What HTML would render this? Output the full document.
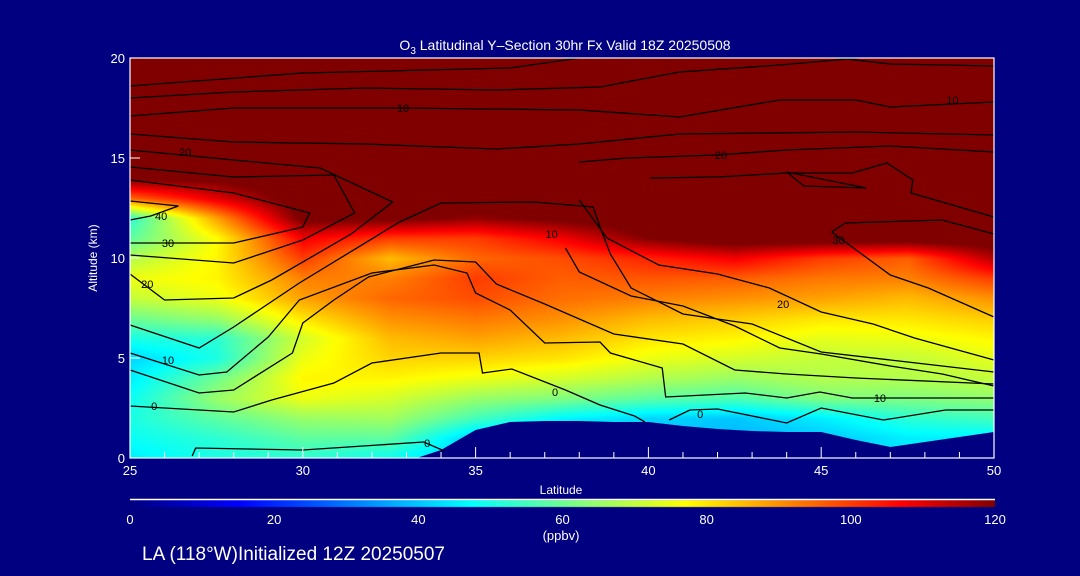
<!DOCTYPE html>
<html><head><meta charset="utf-8">
<style>
html,body{margin:0;padding:0;background:#000080;font-family:"Liberation Sans",sans-serif;}
#wrap{position:relative;width:1080px;height:576px;background:#000080;overflow:hidden;font-family:"Liberation Sans",sans-serif;color:#fff;}
canvas,svg{position:absolute;left:0;top:0;}
svg text{font-family:"Liberation Sans",sans-serif;}
</style></head>
<body>
<div id="wrap">
<canvas id="cv" width="1080" height="576"></canvas>
<svg id="sv" width="1080" height="576"></svg>
<svg width="1080" height="576">
<text x="565" y="50" font-size="14" text-anchor="middle" fill="#fff">O<tspan font-size="10" dy="4">3</tspan><tspan dy="-4"> Latitudinal Y–Section 30hr  Fx Valid 18Z 20250508</tspan></text>
<text x="97" y="258" font-size="12" text-anchor="middle" fill="#fff" transform="rotate(-90 97 258)">Altitude (km)</text>
<text x="561" y="494" font-size="12" text-anchor="middle" fill="#fff">Latitude</text>
<text x="561" y="540" font-size="13" text-anchor="middle" fill="#fff">(ppbv)</text>
<text x="142" y="560" font-size="19" fill="#fff">LA (118°W)Initialized 12Z 20250507</text>
</svg>
</div>
<script>
// ---- data ----
const lats = [25,27.5,30,32.5,35,37.5,40,42.5,45,47.5,50];
const alts = [0,1,2,3,4,5,6,7,8,9,10,11,12,13,14,15,16,17,18,19,20];
const col25  = [45,48,50,48,45,42,50,60,70,75,68,58,52,95,122,125,125,125,125,125,125];
const col275 = [50,52,58,65,60,50,52,65,75,78,78,77,88,110,122,125,125,125,125,125,125];
const col30  = [52,58,65,75,78,75,72,80,88,92,100,108,122,125,125,125,125,125,125,125,125];
const col325 = [48,58,66,72,78,82,85,90,95,92,85,100,122,125,125,125,125,125,125,125,125];
const col35  = [40,40,55,65,75,82,88,93,98,100,95,100,118,125,125,125,125,125,125,125,125];
const col375 = [40,40,46,62,72,80,85,90,94,96,98,108,122,125,125,125,125,125,125,125,125];
const col40  = [40,40,42,58,68,75,80,85,92,97,103,120,125,125,125,125,125,125,125,125,125];
const col425 = [38,38,40,56,65,72,78,83,90,96,108,125,125,125,125,125,125,125,125,125,125];
const col45  = [40,40,45,62,68,70,74,80,88,93,100,125,125,125,125,125,125,125,125,125,125];
const col475 = [45,45,52,62,68,70,75,80,85,92,96,125,125,125,125,125,125,125,125,125,125];
const col50  = [45,45,55,64,70,74,78,83,90,100,115,125,125,125,125,125,125,125,125,125,125];
const ozone = [col25,col275,col30,col325,col35,col375,col40,col425,col45,col475,col50];
const groundLat = [25,33.3,34,35,36,37,38,39,40,41,42,43,44,45,46,47,48,49,50];
const groundAlt = [0,0,0.4,1.4,1.8,1.85,1.85,1.8,1.8,1.6,1.45,1.35,1.3,1.3,0.9,0.55,0.8,1.05,1.3];
const xTicks = [25,30,35,40,45,50];
const yTicks = [0,5,10,15,20];
const cbTicks = [0,20,40,60,80,100,120];
const contours = [
 [[35,20],[45.5,20],[47,19.7],[50,19.6]],
 [[25,18.6],[30,19.25],[36,19.5],[38,20]],
 [[25,18],[28,18.3],[31.8,18.5],[35.6,18.4],[38.6,18.55],[40.9,19.3],[43.8,19.65],[46.1,20]],
 [[25,17.1],[28,17.5],[32.8,17.5],[38,17.4],[40.9,17.05],[43.8,17.9],[46,17.9],[47,17.55],[50,17.8]],
 [[25,16.2],[28,15.8],[31.8,15.7],[35.6,15.45],[38,15.7],[40.9,16.2],[46,16.3],[50,16.15]],
 [[25,15.4],[28,14.9],[30.5,14.5],[32.6,12.8],[31.4,11.2],[29.1,8.9],[28,8.0],[26,7.9],[25,9.2]],
 [[25,14.55],[28,14.05],[30.9,14.15],[31.5,12.25],[30,10.9],[28,9.75],[25,10.15]],
 [[25,13.9],[28,13.25],[30.2,12.25],[30,11.55],[28,10.75],[25,10.75]],
 [[25,12.85],[26.4,12.6],[25.6,12.1],[25,11.9]],
 [[38,14.8],[39.4,15.0],[42,15.15],[44,15.4],[47,15.6],[50,15.3]],
 [[40.05,14.0],[42,14.05],[44,14.25],[45.9,14.25],[46.9,14.75],[47.65,13.9],[47.6,13.25],[50,12.05]],
 [[44,14.3],[46.3,13.5],[44.5,13.6],[44,14.3]],
 [[45.3,11.3],[45.7,11.75],[48.5,11.9],[50,11.2]],
 [[45.3,11.3],[47,9.15],[48.1,8.5],[50,7.05]],
 [[25,6.65],[27,5.5],[28,6.55],[29.9,8.75],[32.8,11.8],[34,12.75],[36.7,12.8],[38.4,12.55],[38.6,11.55],[38.9,10.2],[39.5,8.5],[41,7.2],[43,6.7],[45,5.3],[47,4.9],[50,4.3]],
 [[38,12.9],[38.8,11.0],[40.3,9.65],[42,9.2],[43.5,8.5],[45,7.3],[46.5,6.7],[47.7,6.0],[50,4.9]],
 [[37.6,10.5],[38,9.3],[39.5,8.1],[41,7.6],[42.5,6.6],[43.8,5.5],[45,5.2],[47,4.6],[48.5,4.2],[50,3.6]],
 [[25,5.25],[27,4.15],[27.8,4.3],[29,6.05],[29.9,7.9],[32,9.25],[33.8,9.65],[34.75,9.25],[35,8.25],[36,7.4],[37,5.75],[38.6,5.8],[38.9,5.25],[40.4,4.5],[40.5,3.05],[42.8,3.25],[44,3.0],[44.96,3.3],[45.9,3.0],[50,3.0]],
 [[25,4.4],[27,3.25],[28,3.4],[29.7,5.25],[30,6.75],[30.9,7.9],[31.9,9.05],[33.8,9.9],[35,9.8],[35.6,8.7],[37,7.7],[39,6.2],[41,5.7],[42.5,4.4],[44,4.2],[46,4.0],[50,3.7]],
 [[25,2.6],[28,2.3],[29.1,2.9],[30.9,3.75],[32,4.75],[34,5.25],[35.1,5.25],[35.2,4.25],[36.05,4.45],[37.6,3.4],[38.6,2.65],[39.6,2.1],[39.9,1.8]],
 [[40.6,1.9],[41.2,2.4],[42,2.45],[44,1.75],[45,2.5],[46.8,1.9],[48.6,2.4],[50,2.4]],
 [[26.8,0.1],[26.9,0.5],[30,0.4],[33.5,0.8],[34.1,0.35]]
];
const contourLabels = [["10",32.9,17.5],["10",48.8,17.9],["20",26.6,15.3],["20",42.1,15.15],["40",25.9,12.1],["30",26.1,10.75],["20",25.5,8.7],["10",37.2,11.2],["30",45.5,10.9],["20",43.9,7.7],["10",26.1,4.9],["10",46.7,3.0],["0",25.7,2.6],["0",37.3,3.3],["0",41.5,2.2],["0",33.6,0.75]];
// ---- axes ----
const X0=130,X1=994,Y0=458,Y1=58;
const xs = v => X0+(v-25)/25*(X1-X0);
const ys = v => Y0-(v)/20*(Y0-Y1);
const stops=[[0,[0,0,128]],[15,[0,0,255]],[47,[0,255,255]],[62,[128,255,128]],[77,[255,255,0]],[92,[255,128,0]],[107,[255,0,0]],[120,[128,0,0]]];
function cmap(v){
  if(v<=0) return stops[0][1];
  if(v>=120) return stops[stops.length-1][1];
  for(let i=0;i<stops.length-1;i++){const a=stops[i],b=stops[i+1];
    if(v<=b[0]){const t=(v-a[0])/(b[0]-a[0]);return [0,1,2].map(k=>Math.round(a[1][k]+(b[1][k]-a[1][k])*t));}}
}
function val(lat,alt){
  let fi=(lat-25)/2.5, fj=alt;
  fi=Math.max(0,Math.min(lats.length-1.0001,fi)); fj=Math.max(0,Math.min(alts.length-1.0001,fj));
  const i=Math.floor(fi),j=Math.floor(fj),ti=fi-i,tj=fj-j;
  const a=ozone[i][j],b=ozone[i+1][j],c=ozone[i][j+1],d=ozone[i+1][j+1];
  return (a*(1-ti)+b*ti)*(1-tj)+(c*(1-ti)+d*ti)*tj;
}
const cv=document.getElementById('cv');const ctx=cv.getContext('2d');
const W=X1-X0,H=Y0-Y1;const img=ctx.createImageData(W,H);
for(let py=0;py<H;py++){const alt=(H-py)/H*20;
  for(let px=0;px<W;px++){const lat=25+px/W*25;const c=cmap(val(lat,alt));const o=(py*W+px)*4;
    img.data[o]=c[0];img.data[o+1]=c[1];img.data[o+2]=c[2];img.data[o+3]=255;}}
ctx.putImageData(img,X0,Y1);
// colorbar
const CB0=130,CB1=995;
for(let x=CB0;x<CB1;x++){const c=cmap((x-CB0)/(CB1-CB0)*120);ctx.fillStyle=`rgb(${c[0]},${c[1]},${c[2]})`;ctx.fillRect(x,500,1,7);}
const NS='http://www.w3.org/2000/svg';const sv=document.getElementById('sv');
function mk(tag,attrs,parent){const e=document.createElementNS(NS,tag);for(const k in attrs)e.setAttribute(k,attrs[k]);(parent||sv).appendChild(e);return e;}
// ground
let gp=groundLat.map((la,i)=>xs(la)+','+ys(groundAlt[i])).join(' ');
gp+=' '+xs(50)+','+(Y0+1)+' '+xs(25)+','+(Y0+1);
const ground=mk('polygon',{points:gp,fill:'#000080'});


// contours
const cg=mk('g',{fill:'none',stroke:'#000','stroke-width':'1.3'});


contours.forEach((ln,i)=>{const p=mk('polyline',{points:ln.map(q=>xs(q[0])+','+ys(q[1])).join(' ')},cg);
  
  });
contourLabels.forEach(l=>{const t=mk('text',{x:xs(l[1]),y:ys(l[2])+4,'font-size':'11','text-anchor':'middle',fill:'#000'});t.textContent=l[0];
  
  });
// frame
const fr=mk('rect',{x:X0,y:Y1,width:X1-X0,height:Y0-Y1,fill:'none',stroke:'#fff','stroke-width':'1.2'});


for(let v=25;v<=50;v++){const major=v%5===0;const l=mk('line',{x1:xs(v),x2:xs(v),y1:Y0,y2:Y0-(major?11:6),stroke:'#fff'});
  
  }
xTicks.forEach(v=>{const t=mk('text',{x:xs(v),y:475,'font-size':'13','text-anchor':'middle',fill:'#fff'});t.textContent=v;
  
  });
yTicks.forEach(v=>{const l=mk('line',{x1:X0,x2:X0+10,y1:ys(v),y2:ys(v),stroke:'#fff'});
  
  
  const t=mk('text',{x:125,y:ys(v)+5,'font-size':'13','text-anchor':'end',fill:'#fff'});t.textContent=v;
  
  });
const cbl=mk('line',{x1:CB0,x2:CB1,y1:499.5,y2:499.5,stroke:'#fff','stroke-width':'1.5'});


cbTicks.forEach(v=>{const t=mk('text',{x:CB0+v/120*(CB1-CB0),y:524,'font-size':'13','text-anchor':'middle',fill:'#fff'});t.textContent=v;
  
  });
</script>
</body></html>
